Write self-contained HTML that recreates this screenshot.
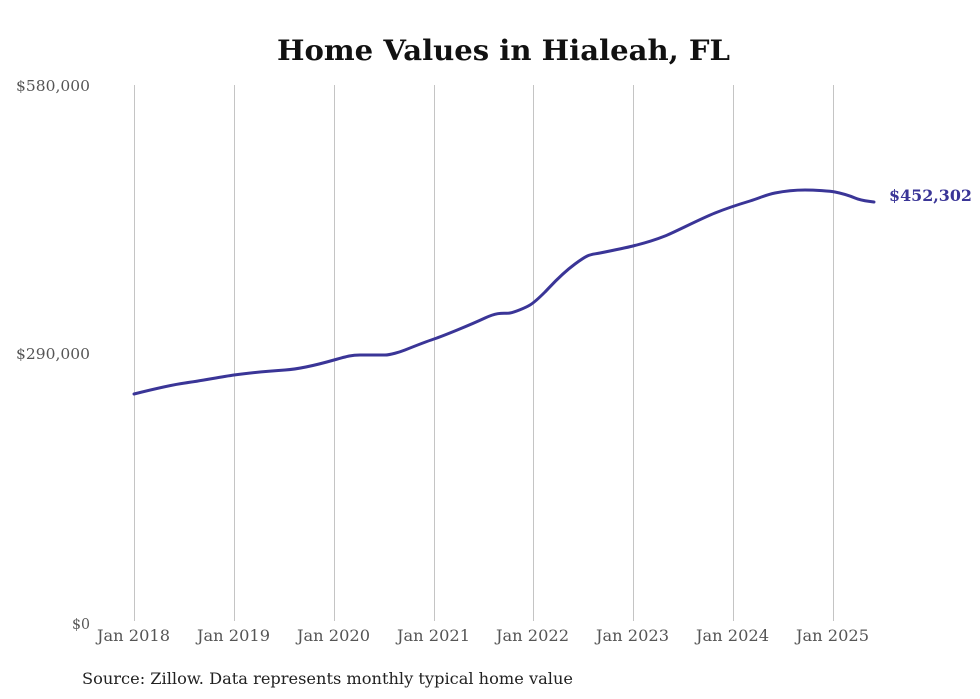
<!DOCTYPE html>
<html><head><meta charset="utf-8"><style>
html,body{margin:0;padding:0;background:#fff;}
svg{display:block;font-family:"DejaVu Serif","Liberation Serif",serif;}
</style></head><body>
<svg width="980" height="699" viewBox="0 0 980 699">
<text x="277" y="60" font-size="28" font-weight="bold" fill="#111" textLength="453" lengthAdjust="spacingAndGlyphs">Home Values in Hialeah, FL</text>
<g stroke="#c4c4c4" stroke-width="1">
<line x1="134.5" y1="85" x2="134.5" y2="621"/><line x1="234.5" y1="85" x2="234.5" y2="621"/>
<line x1="334.5" y1="85" x2="334.5" y2="621"/><line x1="434.5" y1="85" x2="434.5" y2="621"/>
<line x1="533.5" y1="85" x2="533.5" y2="621"/><line x1="633.5" y1="85" x2="633.5" y2="621"/>
<line x1="733.5" y1="85" x2="733.5" y2="621"/><line x1="833.5" y1="85" x2="833.5" y2="621"/>
</g>
<g font-size="15" fill="#555">
<text x="16" y="91" textLength="74" lengthAdjust="spacingAndGlyphs">$580,000</text>
<text x="16" y="359" textLength="74" lengthAdjust="spacingAndGlyphs">$290,000</text>
<text x="72" y="629" textLength="18" lengthAdjust="spacingAndGlyphs">$0</text>
</g>
<g font-size="16" fill="#555">
<text x="97" y="641" textLength="73" lengthAdjust="spacingAndGlyphs">Jan 2018</text>
<text x="197" y="641" textLength="73" lengthAdjust="spacingAndGlyphs">Jan 2019</text>
<text x="297" y="641" textLength="73" lengthAdjust="spacingAndGlyphs">Jan 2020</text>
<text x="397" y="641" textLength="73" lengthAdjust="spacingAndGlyphs">Jan 2021</text>
<text x="496" y="641" textLength="73" lengthAdjust="spacingAndGlyphs">Jan 2022</text>
<text x="596" y="641" textLength="73" lengthAdjust="spacingAndGlyphs">Jan 2023</text>
<text x="696" y="641" textLength="73" lengthAdjust="spacingAndGlyphs">Jan 2024</text>
<text x="796" y="641" textLength="73" lengthAdjust="spacingAndGlyphs">Jan 2025</text>
</g>
<path fill="none" stroke="#3a3597" stroke-width="3" stroke-linejoin="round" stroke-linecap="round"
d="M134,394 C150,390 170,385 185,383 S220,377 234,375 S270,371 285,370 S320,364 334,360 S352,355 360,355 S380,355 385,355 S400,352 405,350 S425,342 434,339 S470,325 485,318 S505,314 510,313 S525,308 530,305 S540,297 545,292 S560,275 575,264 S590,255 600,253 S625,248 633,246 S655,240 665,236 S700,219 715,213 S740,204 750,201 S765,195 775,193 S795,190 805,190 S830,191 835,192 S848,195 855,198 S868,201 874,202"/>
<text x="889" y="201" font-size="16" font-weight="bold" fill="#3a3597" textLength="83" lengthAdjust="spacingAndGlyphs">$452,302</text>
<text x="82" y="684" font-size="16" fill="#222" textLength="491" lengthAdjust="spacingAndGlyphs">Source: Zillow. Data represents monthly typical home value</text>
</svg>
</body></html>
